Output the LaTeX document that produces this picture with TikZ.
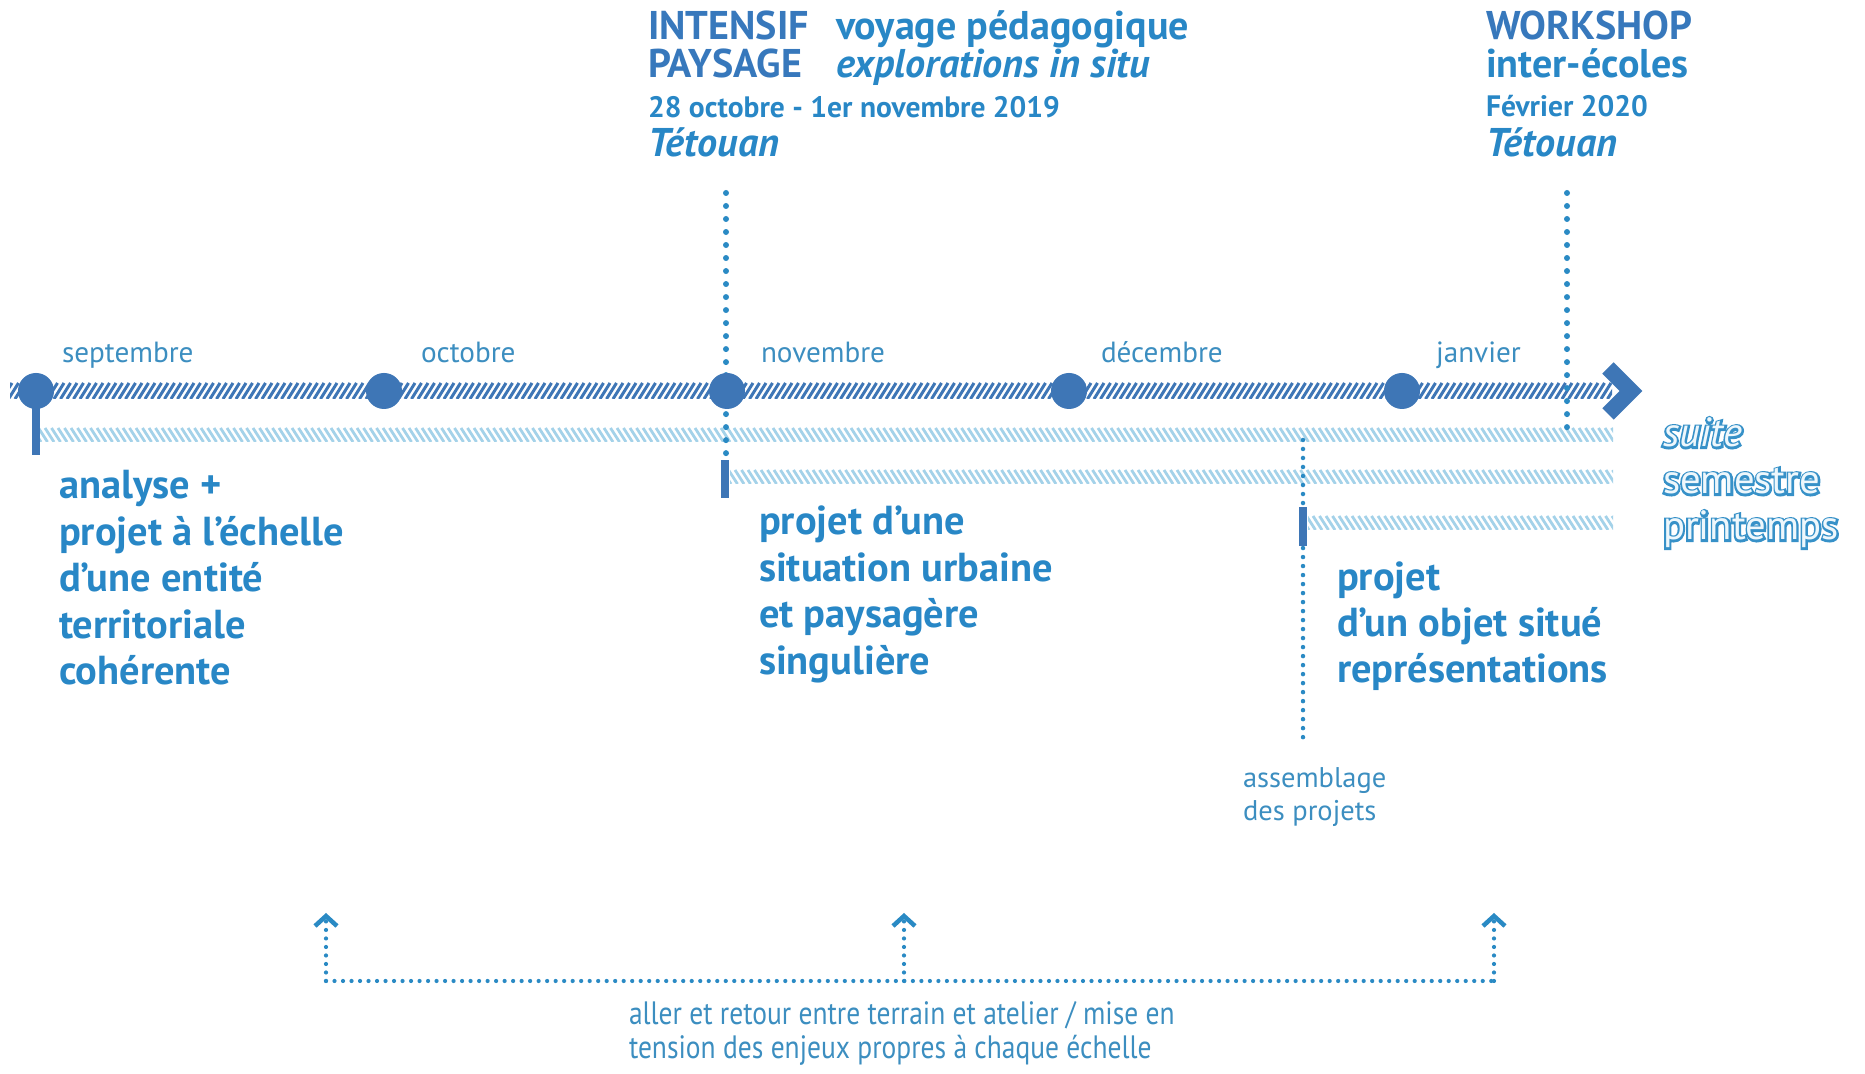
\documentclass[tikz,border=0pt]{standalone}
\usepackage{fontspec}
\setmainfont{PT Sans}
\newfontfamily\condfont[FakeStretch=0.85]{PT Sans}
\usetikzlibrary{arrows.meta}
\definecolor{tlblue}{RGB}{62,118,182}
\definecolor{txtblue}{RGB}{40,135,198}
\definecolor{ttlblue}{RGB}{55,120,188}
\definecolor{monblue}{RGB}{60,142,192}
\definecolor{lightblue}{RGB}{164,210,233}
\definecolor{dotblue}{RGB}{42,138,196}
\definecolor{outlineblue}{RGB}{55,145,200}
\definecolor{outlinefill}{RGB}{238,247,252}
\newcommand\outlinetext[1]{\makebox[0pt][l]{\color{outlineblue}\addfontfeatures{FakeBold=10}#1}{\color{outlinefill}#1}}
\tikzset{
  lbl/.style={anchor=base west, inner sep=0pt, outer sep=0pt},
  month/.style={lbl, text=monblue, font=\fontsize{8.3}{9.6}\selectfont},
  blocktxt/.style={lbl, text=txtblue, font=\bfseries\fontsize{11.5}{13}\selectfont},
  ttldark/.style={lbl, text=ttlblue, font=\bfseries\fontsize{11.4}{13}\selectfont},
  ttl/.style={lbl, text=txtblue, font=\bfseries\fontsize{11.4}{13}\selectfont},
  ttlit/.style={lbl, text=txtblue, font=\bfseries\itshape\fontsize{11.4}{13}\selectfont},
  datetxt/.style={lbl, text=txtblue, font=\bfseries\fontsize{8.4}{10}\selectfont},
  smalltxt/.style={lbl, text=monblue, font=\fontsize{8.1}{9.6}\selectfont},
  bottomtxt/.style={lbl, text=monblue, font=\condfont\fontsize{9.2}{10.5}\selectfont},
  suitetxt/.style={lbl, font=\fontsize{11.6}{13}\selectfont},
  tlcircle/.style={circle, fill=tlblue, minimum size=0.36cm, inner sep=0pt},
  darkhatch/.style={tlblue, line width=0.03cm},
  lighthatch/.style={lightblue, line width=0.028cm},
  stembar/.style={fill=tlblue},
  dotline/.style={dotblue, line width=0.06cm, line cap=round, dash pattern=on 0cm off 0.13cm},
  smalldots/.style={dotblue, line width=0.042cm, line cap=round, dash pattern=on 0cm off 0.085cm},
  uptip/.style={-{Straight Barb[length=1mm,width=2.2mm,line width=0.045cm]}},
}
\begin{document}
\begin{tikzpicture}[x=0.01cm,y=-0.01cm]
\useasboundingbox (0,0) rectangle (1865,1074);

% light hatched rows
\begin{scope}
  \clip (40,428) rectangle (1613,442);
  \foreach \k in {0,...,245} \draw[lighthatch] ({32+6.5*\k},428) -- ++(9,14);
\end{scope}
\begin{scope}
  \clip (730,470) rectangle (1613,484);
  \foreach \k in {0,...,138} \draw[lighthatch] ({722+6.5*\k},470) -- ++(9,14);
\end{scope}
\begin{scope}
  \clip (1308,516) rectangle (1613,530);
  \foreach \k in {0,...,49} \draw[lighthatch] ({1300+6.5*\k},516) -- ++(9,14);
\end{scope}

% dark hatched timeline
\begin{scope}
  \clip (10,383) rectangle (1612,399);
  \foreach \k in {0,...,250} \draw[darkhatch] ({2+6.5*\k},399) -- ++(10,-16);
\end{scope}

% dotted event lines
\coordinate (inttop) at (726,193);
\coordinate (intbot) at (726,458);
\coordinate (wstop) at (1567,193);
\coordinate (wsbot) at (1567,432);
\coordinate (astop) at (1303,440);
\coordinate (asbot) at (1303,742);
\draw[dotline] (inttop) -- (intbot);
\draw[dotline] (wstop) -- (wsbot);
\draw[dotline, line width=0.045cm, dash pattern=on 0cm off 0.09cm] (astop) -- (asbot);

% stems
\fill[stembar] (32,391) rectangle (40,455);
\fill[stembar] (721,460) rectangle (729,498);
\fill[stembar] (1299,507) rectangle (1307,546);

% arrow head of timeline
\draw[tlblue, line width=0.16cm, line join=miter] (1608,368) -- (1631,391) -- (1608,414);

% month circles
\node[tlcircle] (c1) at (36,391) {};
\node[tlcircle] (c2) at (384,391) {};
\node[tlcircle] (c3) at (727,391) {};
\node[tlcircle] (c4) at (1069,391) {};
\node[tlcircle] (c5) at (1402,391) {};

% month labels
\node[month] (m1) at (62,363) {septembre};
\node[month] (m2) at (421,363) {octobre};
\node[month] (m3) at (761,363) {novembre};
\node[month] (m4) at (1101,363) {décembre};
\node[month] (m5) at (1436,363) {janvier};

% top event titles
\node[ttldark] (i1) at (648,40) {INTENSIF};
\node[ttldark] (i2) at (648,78) {PAYSAGE};
\node[ttl] (v1) at (836,40) {voyage pédagogique};
\node[ttlit] (v2) at (836,78) {explorations in situ};
\node[datetxt] (d1) at (648,118) {28 octobre - 1er novembre 2019};
\node[ttlit] (t1) at (648,157) {Tétouan};

\node[ttldark] (w1) at (1486,40) {WORKSHOP};
\node[ttl] (w2) at (1486,78) {inter-écoles};
\node[datetxt] (w3) at (1486,117) {Février 2020};
\node[ttlit] (w4) at (1486,157) {Tétouan};

% project blocks
\foreach \t [count=\i] in {analyse +, projet à l’échelle, d’une entité, territoriale, cohérente}
  \node[blocktxt] (pa\i) at (59,{499+46.4*(\i-1)}) {\t};
\foreach \t [count=\i] in {projet d’une, situation urbaine, et paysagère, singulière}
  \node[blocktxt] (pb\i) at (759,{535+46.4*(\i-1)}) {\t};
\foreach \t [count=\i] in {projet, d’un objet situé, représentations}
  \node[blocktxt] (pc\i) at (1337,{591+45.6*(\i-1)}) {\t};

% suite semestre printemps
\node[suitetxt] (s1) at (1663,447) {\itshape\outlinetext{suite}};
\node[suitetxt] (s2) at (1663,494) {\outlinetext{semestre}};
\node[suitetxt] (s3) at (1663,540) {\outlinetext{printemps}};

% assemblage
\node[smalltxt] (a1) at (1243,788) {assemblage};
\node[smalltxt] (a2) at (1243,821) {des projets};

% back and forth arrows
\coordinate (bl) at (326,981);
\coordinate (bm) at (904,981);
\coordinate (br) at (1494,981);
\coordinate (tl) at (326,913);
\coordinate (tm) at (904,913);
\coordinate (tr) at (1494,913);
\draw[smalldots] (bl) -- (br);
\draw[smalldots, uptip] (bl) -- (tl);
\draw[smalldots, uptip] (bm) -- (tm);
\draw[smalldots, uptip] (br) -- (tr);

\node[bottomtxt] (b1) at (629,1025) {aller et retour entre terrain et atelier / mise en};
\node[bottomtxt] (b2) at (629,1059) {tension des enjeux propres à chaque échelle};
\end{tikzpicture}
\end{document}
